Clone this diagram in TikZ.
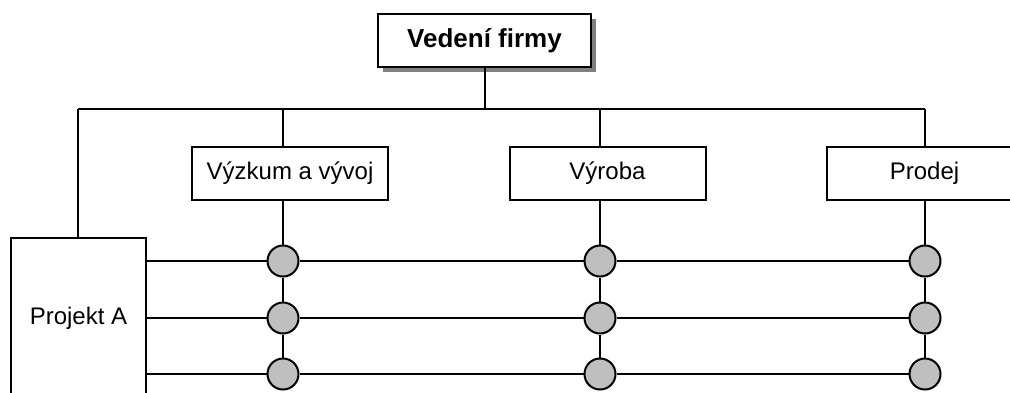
\documentclass[tikz,border=0pt]{standalone}
\usepackage{fontspec}
\setmainfont{Liberation Sans}
\usetikzlibrary{shadows}

\begin{document}
\begin{tikzpicture}[x=0.5pt, y=-0.5pt, line width=1pt,
  every node/.style={font=\fontsize{12}{14}\selectfont},
  box/.style={draw, fill=white, minimum width=98pt, minimum height=26.5pt, inner sep=0pt},
  uzel/.style={circle, draw, fill=black!25, minimum size=15.5pt, inner sep=0pt}]
\useasboundingbox (0,0) rectangle (1010,392);
\clip (0,0) rectangle (1010,392);

% vedeni a utvary
\node[box, minimum width=106.5pt, font=\bfseries\fontsize{13}{15}\selectfont,
  drop shadow={shadow xshift=2.5pt, shadow yshift=-2.5pt, fill=black!50, opacity=1}] (vedeni) at (484.5,40.5) {Vedení firmy};
\node[box] (vyzkum) at (290,173.5) {Výzkum a vývoj};
\node[box] (vyroba) at (607.5,173.5) {Výroba};
\node[box] (prodej) at (924.5,173.5) {Prodej};
\node[box, minimum width=67.5pt, minimum height=80pt] (projekt) at (78.5,318) {Projekt A};

% uzly matice
\foreach \d/\x in {vyzkum/283, vyroba/600, prodej/925}
  \foreach \r/\y in {1/261, 2/318, 3/374}
    \node[uzel] (\d\r) at (\x,\y) {};

\coordinate (busL) at (78,109);
\coordinate (busR) at (925,109);
\draw (vedeni.south) -- (vedeni.south |- busL);
\draw (busL) -- (busR);
\draw (busL) -- (busL |- projekt.north);

\foreach \d in {vyzkum, vyroba, prodej} {
  \draw (\d1 |- busL) -- (\d1 |- \d.north);
  \draw (\d1 |- \d.south) -- (\d1) -- (\d2) -- (\d3);
}
\foreach \r in {1,2,3}
  \draw (projekt.east |- vyzkum\r) -- (vyzkum\r) -- (vyroba\r) -- (prodej\r);
\end{tikzpicture}
\end{document}
